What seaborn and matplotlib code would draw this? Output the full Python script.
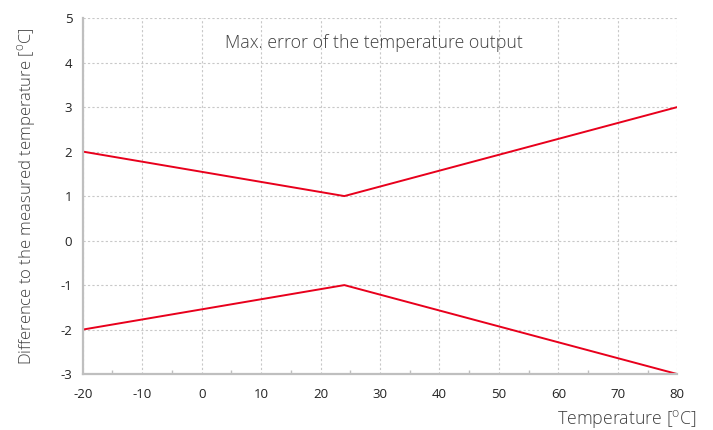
import seaborn as sns
import matplotlib.pyplot as plt
import pandas as pd
from matplotlib.ticker import MultipleLocator

# Values
temperature = [-20, 24, 80]
upper_error = [2, 1, 3]
lower_error = [-2, -1, -3]

x_ticks = [-20, -10, 0, 10, 20, 30, 40, 50, 60, 70, 80]
y_ticks = [-3, -2, -1, 0, 1, 2, 3, 4, 5]

sns.set_theme(style='white')
plt.rcParams['font.family'] = ['Open Sans', 'DejaVu Sans']
plt.rcParams['axes.unicode_minus'] = False

df = pd.DataFrame({
    'temperature': temperature * 2,
    'error': upper_error + lower_error,
    'bound': ['upper'] * len(temperature) + ['lower'] * len(temperature),
})

fig = plt.figure(figsize=(7.13, 4.30), dpi=100)
ax = fig.add_axes([0.116, 0.130, 0.834, 0.828])

sns.lineplot(data=df, x='temperature', y='error', hue='bound', units='bound',
             estimator=None, palette=['#e8001c', '#e8001c'], linewidth=1.4,
             legend=False, ax=ax)

ax.set_xlim(-20, 80)
ax.set_ylim(-3, 5)
ax.set_xticks(x_ticks)
ax.set_yticks(y_ticks)
ax.xaxis.set_minor_locator(MultipleLocator(5))

ax.grid(True, which='major', linestyle=(0, (2, 2)), color='#c8c8c8', linewidth=0.8)
for side in ['top', 'right']:
    ax.spines[side].set_visible(False)
for side in ['left', 'bottom']:
    ax.spines[side].set_color('#bfbfbf')
    ax.spines[side].set_linewidth(1.6)

ax.tick_params(axis='both', which='major', length=4, width=1, color='#bfbfbf',
               labelsize=9.5, labelcolor='#222222', direction='out')
ax.tick_params(axis='x', which='minor', length=3, width=1, color='#bfbfbf',
               direction='in', bottom=True)
ax.tick_params(axis='x', pad=6)

ax.set_xlabel('')
ax.set_ylabel('Difference to the measured temperature [$^\\mathregular{o}$C]',
              fontsize=12, color='#404040', labelpad=16, fontweight='light')
fig.text(0.977, 0.0, 'Temperature [$^\\mathregular{o}$C]', ha='right', va='bottom',
         fontsize=12.8, color='#404040', fontweight='light')

ax.text(0.49, 0.93, 'Max. error of the temperature output', transform=ax.transAxes,
        ha='center', va='center', fontsize=12.8, color='#404040', fontweight='light')

plt.savefig('out.png', dpi=100)
plt.close()
